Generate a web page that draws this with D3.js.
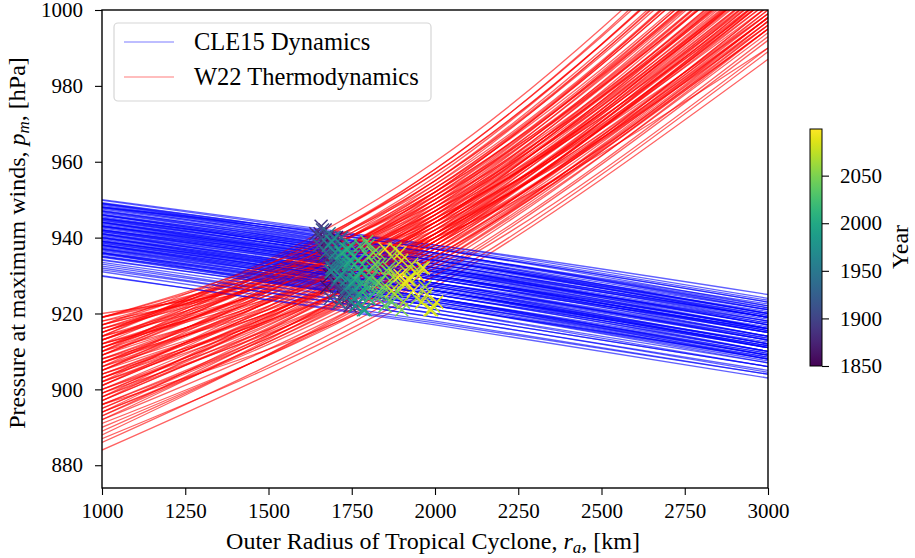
<!DOCTYPE html>
<html>
<head>
<meta charset="utf-8">
<script src="https://cdn.jsdelivr.net/npm/d3@7"></script>
<style>
 body { margin:0; background:#ffffff; }
 text { font-family:"Liberation Serif","DejaVu Serif",serif; fill:#000; }
</style>
</head>
<body>
<script>
var radiusGrid = [1000, 2000, 3000];

// CLE15 dynamics curves, pressure (hPa) at 1000 / 2000 / 3000 km
var blueAt1000 = [950,949,949,948,948,947,947,946,946,945,945,944,944,943,943,942,942,941,941,940,
                  940,939,939,938,938,937,937,936,936,935,935,934,933,932,930,948.5,947.5,946.5,945.5,944.5,
                  943.5,942.5,941.5,940.5,939.5,938.5,937.5,936.5,944,946,941,939,943,936,931,948,945,942,940,938,
                  949.8,948.8,947.8,946.8,945.8,944.8,943.8,942.8,941.8,940.8,939.8,938.8,937.8,936.8,935.8,934.8,933.5,932.5,931.5,929.8,
                  949.2,947.2,945.2,943.2,941.2,939.2,937.2,935.2,946.2,944.2,942.2,940.2,938.2,936.2,934.2,948.2,944.6,941.6,938.6,935.6];
var blueAt2000 = [938,937,936,937,935,935,934,934,933,933,932,932,931,931,930,930,929,929,928,928,
                  927,927,926,926,925,925,924,924,923,923,922,922,920,919,917,936,935,934,933,932,
                  931,930,929,928,927,926,925,924,930,932,927,928,932,921,918,938,934,931,926,924,
                  937.5,936,935.5,934,933.5,932,931.5,930,929.5,928,927.5,926,925.5,924,923.5,922,921,920,919,917.5,
                  937,934.5,933,930.5,929,926.5,925,922.5,934,931.5,930,927.5,926,923.5,922,936,932.5,929.5,926,923];
var blueAt3000 = [924,922,921,923,920,921,919,920,918,919,917,918,916,917,915,916,914,915,913,914,
                  912,913,911,912,910,911,909,910,908,909,907,908,906,905,903,922,920,919,919,917,
                  916,915,914,913,912,911,910,909,914,916,911,916,919,906,904,925,921,918,910,908,
                  923.5,921.5,921.5,919.5,919.5,917.5,917.5,915.5,915.5,913.5,913.5,911.5,911.5,909.5,909.5,907.5,907,906,904.5,904,
                  923,920,919,916,915,912,911,908,920.5,917,916.5,913,912.5,909,908.5,922.5,918.5,915.5,911.5,908.5];

// W22 thermodynamics curves, pressure (hPa) at 1000 / 2000 / 3000 km
var redAt1000 = [884,886,887,889,891,893,894,895,896,897,898,899,900,901,902,903,903,904,905,905,
                 906,907,907,908,909,909,910,910,911,911,912,912,913,913,914,914,915,915,916,916,
                 917,917,918,918,919,919,920,896,900,904,908,912,906,902,898,894,910,914,892,888,
                 895,897,899,901,903,905,907,909,911,913,915,917,919,916,914,912,910,908,906,904,
                 902,900,898,896,894,892,890,893,897,901,905,909,913,917,919,911,907,903,899,915];
var redAt2000 = [927,930,928,933,931,936,934,938,935,940,937,942,939,944,941,946,938,943,948,940,
                 945,950,942,947,952,944,949,954,946,951,956,941,948,953,958,943,950,955,945,952,
                 947,957,949,942,951,944,940,930,936,937,939,945,952,949,945,941,958,960,938,934,
                 936,939,941,943,944,946,948,950,953,955,957,953,948,949,947,943,941,944,939,941,
                 938,942,940,937,935,933,932,939,944,947,951,955,950,946,954,947,944,940,935,952];
var redAt3000 = [987,992,989,996,993,1000,997,1004,995,1007,1001,1010,1003,1013,1005,1016,998,1008,1019,1000,
                 1011,1022,1004,1014,1026,1006,1017,1029,1009,1020,1032,998,1012,1024,1035,1001,1015,1027,1004,1019,
                 1008,1031,1011,996,1015,999,990,990,996,995,997,1003,1024,1020,1014,1009,1033,1036,1004,998,
                 998,1003,1006,1009,1010,1013,1016,1019,1025,1028,1031,1022,1010,1013,1009,1002,999,1007,998,1003,
                 999,1007,1005,1001,997,994,995,1006,1012,1017,1021,1029,1017,1005,1026,1012,1009,1002,995,1020];

// intersections, one cross per year
var crossYear = [1850,1853,1856,1859,1862,1865,1868,1871,1874,1877,1880,1883,1886,1889,1892,1895,1898,1901,1904,1907,
                 1910,1913,1916,1919,1922,1925,1928,1931,1934,1937,1940,1943,1946,1949,1952,1955,1958,1961,1964,1967,
                 1970,1973,1976,1979,1982,1985,1988,1991,1994,1997,2000,2003,2006,2009,2012,2015,2018,2021,2024,2027,
                 2030,2033,2036,2039,2042,2045,2048,2051,2054,2057,2060,2063,2066,2069,2072,2075,2078,2081,2084,2087,
                 2090,2093,2096,2099,
                 1851,1854,1857,1860,1863,1866,1869,1872,1875,1878,1881,1884,1887,1890,1893,1896,1899,1902,1905,1908,
                 1911,1914,1917,1920,1923,1926,1929,1932,1935,1938,1941,1944,1947,1950,1953,1956,1959,1962,1965,1968,
                 1971,1974,1977,1980,1983,1986,1989,1992,1995,1998,2001,2004,2007,2010,2013,2016,2019,2022,2025,2028,
                 2031,2034,2037,2040,2043,2046,2049,2052,2055,2058,2061,2064,2067,2070,2073,2076,2079,2082,2085,2088,
                 2091,2094,2097];
var crossRadius = [1692,1684,1704,1675,1703,1670,1741,1664,1729,1673,1702,1642,1717,1705,1658,1740,1696,1686,1686,1738,
                   1659,1695,1732,1687,1739,1653,1714,1719,1713,1718,1672,1756,1682,1735,1690,1705,1745,1680,1735,1690,
                   1760,1700,1725,1750,1690,1770,1715,1740,1785,1720,1760,1745,1790,1735,1780,1800,1770,1820,1775,1840,
                   1810,1800,1850,1830,1795,1860,1845,1820,1880,1815,1925,1905,1960,1880,1990,1940,1870,1900,1960,1915,
                   1985,1850,1935,1895,
                   1695,1720,1672,1735,1690,1712,1655,1728,1700,1745,1668,1730,1680,1722,1676,1708,1690,1748,1718,1700,
                   1662,1744,1702,1726,1688,1756,1694,1736,1712,1762,1722,1708,1698,1752,1730,1716,1770,1742,1756,1720,
                   1776,1752,1735,1790,1762,1742,1788,1758,1780,1755,1802,1775,1748,1800,1782,1805,1790,1830,1815,1800,
                   1855,1835,1870,1850,1830,1885,1862,1900,1880,1870,1945,1915,1970,1880,1995,1930,1905,1975,1950,1895,
                   2005,1920,1965];
var crossPressure = [936,930,940,927,933,942,929,935,925,938,931,941,936,927,943,932,939,924,934,928,
                     940,937,926,931,935,938,930,940,923,933,936,929,941,927,932,934,925,938,929,931,
                     922,936,933,928,939,925,930,933,921,936,929,934,927,937,931,924,934,928,938,925,
                     930,935,922,928,939,931,927,933,925,936,929,923,932,930,921,931,926,934,923,928,
                     921,937,926,930,
                     933,927,939,924,936,930,941,926,934,922,938,929,935,925,940,931,937,923,933,928,
                     942,926,935,930,939,924,932,927,937,922,934,929,940,926,931,936,923,933,928,938,
                     925,931,935,921,930,937,926,933,928,935,924,931,938,927,933,929,936,925,932,938,
                     927,933,923,930,936,926,932,921,929,935,924,931,927,937,922,933,928,925,930,936,
                     923,929,932];

var xTicks = [1000,1250,1500,1750,2000,2250,2500,2750,3000];
var yTicks = [880,900,920,940,960,980,1000];
var yearTicks = [1850,1900,1950,2000,2050];
var legendLabels = ["CLE15 Dynamics", "W22 Thermodynamics"];

var W = 915, H = 558;
var pL = 102, pR = 768, pT = 10, pB = 488;

var svg = d3.select("body").append("svg")
    .attr("width", W).attr("height", H);

var x = d3.scaleLinear().domain([1000, 3000]).range([pL, pR]);
var y = d3.scaleLinear().domain([874, 1000]).range([pB, pT]);
var color = d3.scaleSequential(d3.interpolateViridis).domain([1850, 2099]);

svg.append("clipPath").attr("id", "plotclip")
  .append("rect").attr("x", pL).attr("y", pT)
  .attr("width", pR - pL).attr("height", pB - pT);

var plot = svg.append("g").attr("clip-path", "url(#plotclip)");

var line = d3.line()
    .x(function(d, i) { return x(radiusGrid[i]); })
    .y(function(d) { return y(d); })
    .curve(d3.curveMonotoneX);

// curves drawn year by year, blue then red
var curves = [];
blueAt1000.forEach(function(v, i) {
  curves.push({c: "#0000ff", v: [blueAt1000[i], blueAt2000[i], blueAt3000[i]]});
  curves.push({c: "#ff0000", v: [redAt1000[i], redAt2000[i], redAt3000[i]]});
});

plot.selectAll("path.curve").data(curves).enter()
  .append("path").attr("class", "curve")
  .attr("d", function(d) { return line(d.v); })
  .attr("fill", "none")
  .attr("stroke", function(d) { return d.c; })
  .attr("stroke-opacity", 0.62)
  .attr("stroke-width", 1.3);

var crosses = crossYear.map(function(yr, i) {
  return {year: yr, r: crossRadius[i], p: crossPressure[i]};
}).sort(function(a, b) { return a.year - b.year; });

plot.selectAll("path.cross").data(crosses).enter()
  .append("path").attr("class", "cross")
  .attr("transform", function(d) { return "translate(" + x(d.r) + "," + y(d.p) + ")"; })
  .attr("d", "M-6.5,-6.5L6.5,6.5M-6.5,6.5L6.5,-6.5")
  .attr("stroke", function(d) { return color(d.year); })
  .attr("stroke-width", 1.5)
  .attr("fill", "none");

// axes
var xAxis = svg.append("g").attr("transform", "translate(0," + pB + ")")
  .call(d3.axisBottom(x).tickValues(xTicks).tickSize(7).tickPadding(8).tickFormat(d3.format("d")));
var yAxis = svg.append("g").attr("transform", "translate(" + pL + ",0)")
  .call(d3.axisLeft(y).tickValues(yTicks).tickSize(7).tickPadding(12).tickFormat(d3.format("d")));
[xAxis, yAxis].forEach(function(a) {
  a.select(".domain").remove();
  a.selectAll("line").attr("stroke", "#000").attr("stroke-width", 1.1);
  a.selectAll("text").attr("font-family", "Liberation Serif").attr("font-size", 21).attr("fill", "#000");
});

svg.append("rect").attr("x", pL).attr("y", pT)
  .attr("width", pR - pL).attr("height", pB - pT)
  .attr("fill", "none").attr("stroke", "#000").attr("stroke-width", 1.4);

// axis labels
var xl = svg.append("text").attr("x", 433).attr("y", 549)
  .attr("text-anchor", "middle").attr("font-size", 24);
xl.append("tspan").text("Outer Radius of Tropical Cyclone, ");
xl.append("tspan").attr("font-style", "italic").text("r");
xl.append("tspan").attr("font-style", "italic").attr("font-size", 17).attr("dy", 4).text("a");
xl.append("tspan").attr("dy", -4).text(", [km]");

var yl = svg.append("text")
  .attr("transform", "translate(25,243) rotate(-90)")
  .attr("text-anchor", "middle").attr("font-size", 24);
yl.append("tspan").text("Pressure at maximum winds, ");
yl.append("tspan").attr("font-style", "italic").text("p");
yl.append("tspan").attr("font-style", "italic").attr("font-size", 17).attr("dy", 4).text("m");
yl.append("tspan").attr("dy", -4).text(", [hPa]");

// legend
var lg = svg.append("g");
lg.append("rect").attr("x", 114).attr("y", 23).attr("width", 317).attr("height", 78)
  .attr("rx", 4).attr("fill", "#fff").attr("fill-opacity", 0.8)
  .attr("stroke", "#d6d6d6").attr("stroke-width", 1.2);
lg.selectAll("g.item").data(legendLabels).enter().append("g").attr("class", "item")
  .each(function(d, i) {
    var g = d3.select(this), yy = 42 + i * 35;
    g.append("line").attr("x1", 124).attr("x2", 174).attr("y1", yy).attr("y2", yy)
      .attr("stroke", i === 0 ? "#0000ff" : "#ff0000").attr("stroke-opacity", 0.35).attr("stroke-width", 1.5);
    g.append("text").attr("x", 194).attr("y", yy + 8).attr("font-size", 24.5).text(d);
  });

// colorbar
var cbX = 810, cbW = 12;
var cy = d3.scaleLinear().domain([1850, 2099]).range([366, 129]);
var grad = svg.append("defs").append("linearGradient").attr("id", "viridis")
  .attr("x1", 0).attr("y1", 1).attr("x2", 0).attr("y2", 0);
d3.range(0, 1.0001, 0.05).forEach(function(t) {
  grad.append("stop").attr("offset", t).attr("stop-color", d3.interpolateViridis(t));
});
svg.append("rect").attr("x", cbX).attr("y", cy(2099)).attr("width", cbW)
  .attr("height", cy(1850) - cy(2099)).attr("fill", "url(#viridis)")
  .attr("stroke", "#000").attr("stroke-width", 1);
var cAxis = svg.append("g").attr("transform", "translate(" + (cbX + cbW) + ",0)")
  .call(d3.axisRight(cy).tickValues(yearTicks).tickSize(7).tickPadding(11).tickFormat(d3.format("d")));
cAxis.select(".domain").remove();
cAxis.selectAll("line").attr("stroke", "#000").attr("stroke-width", 1.1);
cAxis.selectAll("text").attr("font-family", "Liberation Serif").attr("font-size", 21).attr("fill", "#000");
svg.append("text").attr("transform", "translate(900,247) rotate(-90)")
  .attr("text-anchor", "middle").attr("dy", "0.35em").attr("font-size", 24).text("Year");
</script>
</body>
</html>
